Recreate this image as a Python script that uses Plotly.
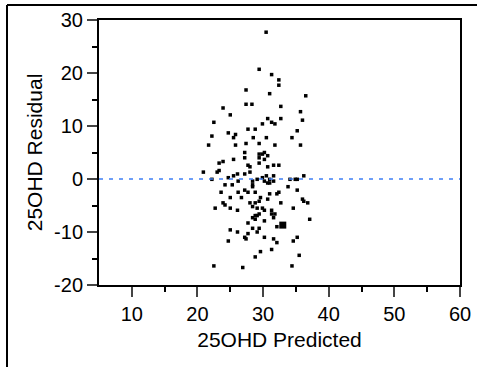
import plotly.graph_objects as go

pred = [30.46, 29.4, 31.3, 32.4, 32.4, 27.4, 31.0, 36.5, 27.4, 28.3, 32.7, 23.9, 25.0, 35.7, 22.5,
        30.7, 32.7, 36.0, 31.3, 31.8, 29.9, 22.2, 24.7, 25.8, 25.5, 27.7, 28.8, 35.2, 30.5, 28.5,
        34.4, 21.7, 25.8, 27.4, 29.4, 31.8, 35.7, 27.2, 30.2, 29.4, 29.9, 30.7, 27.2, 29.4, 30.2,
        25.5, 23.9, 23.3, 29.4, 27.7, 28.0, 31.6, 32.4, 30.7, 23.3, 23.0, 20.9, 28.0, 26.1, 25.5,
        27.2, 24.7, 30.5, 29.9, 31.6, 36.2, 29.1, 31.0, 34.1, 34.9, 35.2, 22.2, 26.2, 28.4, 30.2,
        31.6, 24.2, 25.3, 28.4, 30.7, 31.0, 28.4, 33.8, 23.6, 26.2, 27.2, 27.7, 28.8, 35.2, 32.4,
        31.0, 32.1, 25.0, 26.7, 29.6, 30.7, 29.4, 28.8, 36.0, 36.2, 36.8, 23.9, 24.2, 28.0, 32.7,
        22.7, 25.0, 26.1, 28.4, 29.9, 30.2, 29.1, 31.3, 34.6, 29.4, 31.3, 31.8, 31.6, 28.8, 29.1,
        28.4, 28.8, 37.1, 30.2, 27.7, 32.1, 28.4, 29.4, 29.1, 25.0, 26.1, 27.7, 27.2, 27.4, 30.2,
        31.6, 32.1, 24.7, 35.2, 34.6, 29.6, 31.3, 28.8, 35.5, 22.5, 26.9, 34.4]
resid = [27.7, 20.7, 19.7, 18.7, 17.7, 16.8, 16.1, 15.7, 14.1, 14.1, 13.7, 13.4, 12.1, 12.7, 10.7,
         11.4, 11.4, 11.1, 10.7, 10.4, 10.4, 8.1, 8.7, 8.4, 7.8, 9.4, 9.4, 9.1, 7.8, 7.8,
         7.8, 6.4, 6.4, 6.7, 6.7, 6.4, 6.4, 5.0, 5.0, 4.7, 4.7, 4.4, 4.0, 4.0, 3.7,
         3.7, 3.3, 3.0, 3.0, 2.6, 2.3, 2.6, 2.6, 2.3, 1.6, 1.3, 1.3, 1.3, 0.95, 0.6,
         0.95, 0.25, 0.6, 0.25, 0.6, 0.6, -0.06, -0.06, -0.06, -0.06, -0.06, -0.06, -0.4, -0.4, -0.4,
         -0.4, -1.1, -1.1, -1.1, -0.75, -0.75, -1.45, -1.45, -2.5, -2.5, -2.1, -2.5, -2.5, -2.1, -2.5,
         -2.8, -2.8, -3.5, -3.5, -3.5, -3.8, -4.2, -4.5, -3.8, -4.2, -4.5, -4.5, -4.9, -4.5, -4.5,
         -5.5, -5.5, -5.9, -5.2, -5.5, -5.9, -5.5, -5.9, -5.5, -6.6, -6.6, -6.6, -7.3, -6.9, -6.9,
         -7.3, -7.6, -7.6, -7.9, -8.3, -9.0, -9.3, -9.3, -10.0, -9.6, -10.0, -10.3, -11.0, -11.3, -11.0,
         -11.3, -12.0, -11.7, -11.0, -11.7, -13.7, -13.3, -14.7, -14.4, -16.4, -16.7, -16.4]

hl_pred = [33.0]
hl_resid = [-8.7]

x_ticks = [10, 20, 30, 40, 50, 60]
x_labels = ["10", "20", "30", "40", "50", "60"]
y_ticks = [-20, -10, 0, 10, 20, 30]
y_labels = ["-20", "-10", "0", "10", "20", "30"]

fig = go.Figure()
fig.add_trace(go.Scatter(x=pred, y=resid, mode="markers",
                         marker=dict(symbol="square", size=3.5, color="black", line=dict(width=0)),
                         hoverinfo="x+y"))
fig.add_trace(go.Scatter(x=hl_pred, y=hl_resid, mode="markers",
                         marker=dict(symbol="square", size=7, color="black", line=dict(width=0))))
fig.add_hline(y=0, line=dict(color="#3f7ff5", width=1.5, dash="4px,6px"))

# outer frame
fig.add_shape(type="line", xref="paper", yref="paper", x0=-92/361, x1=-92/361, y0=-82/265, y1=15/265 + 1,
              line=dict(color="black", width=2))
fig.add_shape(type="line", xref="paper", yref="paper", x0=-92/361, x1=17/361 + 1, y0=15/265 + 1, y1=15/265 + 1,
              line=dict(color="black", width=2))

axis_font = dict(family="Liberation Sans, Arial, sans-serif", size=20, color="black")
title_font = dict(family="Liberation Sans, Arial, sans-serif", size=21, color="black")

fig.update_xaxes(range=[5, 60], tickvals=x_ticks, ticktext=x_labels, ticks="outside", ticklen=10, tickwidth=2,
                 showline=True, linewidth=2, linecolor="black", mirror=True, showgrid=False,
                 zeroline=False, tickfont=axis_font,
                 minor=dict(tickvals=[15, 25, 35, 45, 55], ticks="outside", ticklen=5, tickwidth=2, tickcolor="black"),
                 title=dict(text="25OHD Predicted", font=title_font, standoff=8))
fig.update_yaxes(range=[-20, 30], tickvals=y_ticks, ticktext=y_labels, ticks="outside", ticklen=10, tickwidth=2,
                 showline=True, linewidth=2, linecolor="black", mirror=True, showgrid=False,
                 zeroline=False, tickfont=axis_font,
                 minor=dict(tickvals=[-15, -5, 5, 15, 25], ticks="outside", ticklen=5, tickwidth=2, tickcolor="black"),
                 title=dict(text="25OHD Residual", font=title_font, standoff=6))

fig.update_layout(width=478, height=367, margin=dict(l=99, r=18, t=20, b=82, autoexpand=False),
                  plot_bgcolor="white", paper_bgcolor="white", showlegend=False)

fig.write_html("out.html")
